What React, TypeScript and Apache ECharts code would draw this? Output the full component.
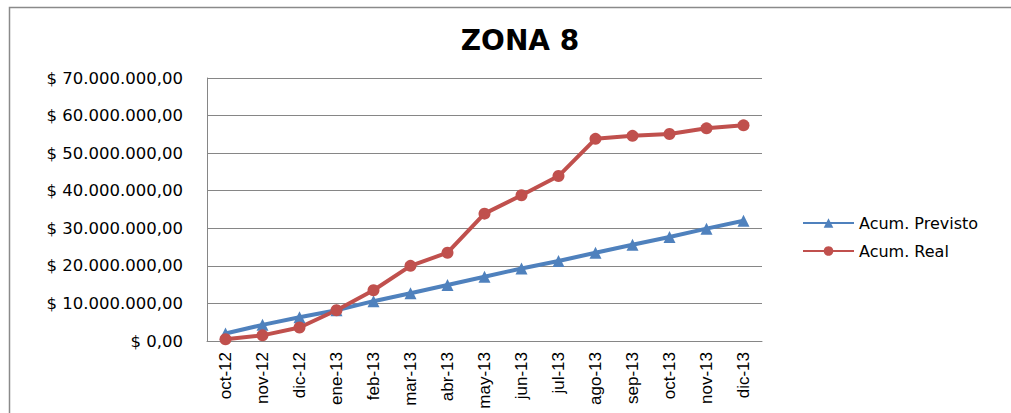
import React, { useEffect, useRef } from "react";
import * as echarts from "echarts";

const categories = ["oct-12", "nov-12", "dic-12", "ene-13", "feb-13", "mar-13", "abr-13", "may-13", "jun-13", "jul-13", "ago-13", "sep-13", "oct-13", "nov-13", "dic-13"];
const previsto = [2.0e6, 4.3e6, 6.3e6, 8.2e6, 10.6e6, 12.7e6, 14.9e6, 17.1e6, 19.3e6, 21.3e6, 23.5e6, 25.6e6, 27.7e6, 29.9e6, 32.0e6];
const real = [0.45e6, 1.5e6, 3.6e6, 8.2e6, 13.5e6, 20.0e6, 23.5e6, 33.9e6, 38.8e6, 43.9e6, 53.8e6, 54.6e6, 55.1e6, 56.6e6, 57.4e6];
const yTicks = { min: 0, max: 70e6, interval: 10e6 };
const seriesNames = ["Acum. Previsto", "Acum. Real"];
const title = "ZONA 8";

function fmt(v: number): string {
  const int = Math.round(v).toString().replace(/\B(?=(\d{3})+(?!\d))/g, ".");
  return "$ " + int + ",00";
}

export default function App() {
  const ref = useRef<HTMLDivElement>(null);
  useEffect(() => {
    if (!ref.current) return;
    const chart = echarts.init(ref.current, undefined, { renderer: "svg" });
    chart.setOption({
      animation: false,
      backgroundColor: "#ffffff",
      title: {
        text: title,
        left: 515,
        top: 21,
        textAlign: "center",
        textStyle: { fontFamily: "DejaVu Sans", fontWeight: "bold", fontSize: 28, color: "#000" },
      },
      graphic: [
        {
          type: "rect",
          shape: { x: 9.5, y: 7.5, width: 1010, height: 420 },
          style: { fill: "none", stroke: "#8a8a8a", lineWidth: 1.5 },
          silent: true,
        },
      ],
      grid: { left: 207, right: 249, top: 78, bottom: 72, containLabel: false },
      legend: {
        orient: "vertical",
        left: 797,
        top: 210,
        itemWidth: 51,
        itemHeight: 12,
        itemGap: 12,
        data: seriesNames,
        textStyle: { fontFamily: "DejaVu Sans", fontSize: 16, color: "#000" },
      },
      xAxis: {
        type: "category",
        data: categories,
        boundaryGap: true,
        axisLine: { lineStyle: { color: "#868686", width: 1 } },
        axisTick: { show: false },
        axisLabel: {
          rotate: 90,
          interval: 0,
          margin: 11,
          fontFamily: "Liberation Sans Narrow, Liberation Sans",
          fontSize: 17,
          color: "#000",
        },
      },
      yAxis: {
        type: "value",
        min: yTicks.min,
        max: yTicks.max,
        interval: yTicks.interval,
        axisLine: { show: true, lineStyle: { color: "#868686", width: 1 } },
        axisTick: { show: false },
        splitLine: { lineStyle: { color: "#868686", width: 1 } },
        axisLabel: {
          formatter: (v: number) => fmt(v),
          margin: 24,
          fontFamily: "DejaVu Sans",
          fontSize: 16.5,
          color: "#000",
        },
      },
      series: [
        {
          name: seriesNames[0],
          type: "line",
          data: previsto,
          symbol: "triangle",
          symbolSize: 12,
          lineStyle: { color: "#4F81BD", width: 4 },
          itemStyle: { color: "#4F81BD" },
        },
        {
          name: seriesNames[1],
          type: "line",
          data: real,
          symbol: "circle",
          symbolSize: 12,
          lineStyle: { color: "#C0504D", width: 4 },
          itemStyle: { color: "#C0504D" },
        },
      ],
    });
    return () => chart.dispose();
  }, []);
  return <div ref={ref} style={{ position: "fixed", left: 0, top: 0, width: 1011, height: 413 }} />;
}
